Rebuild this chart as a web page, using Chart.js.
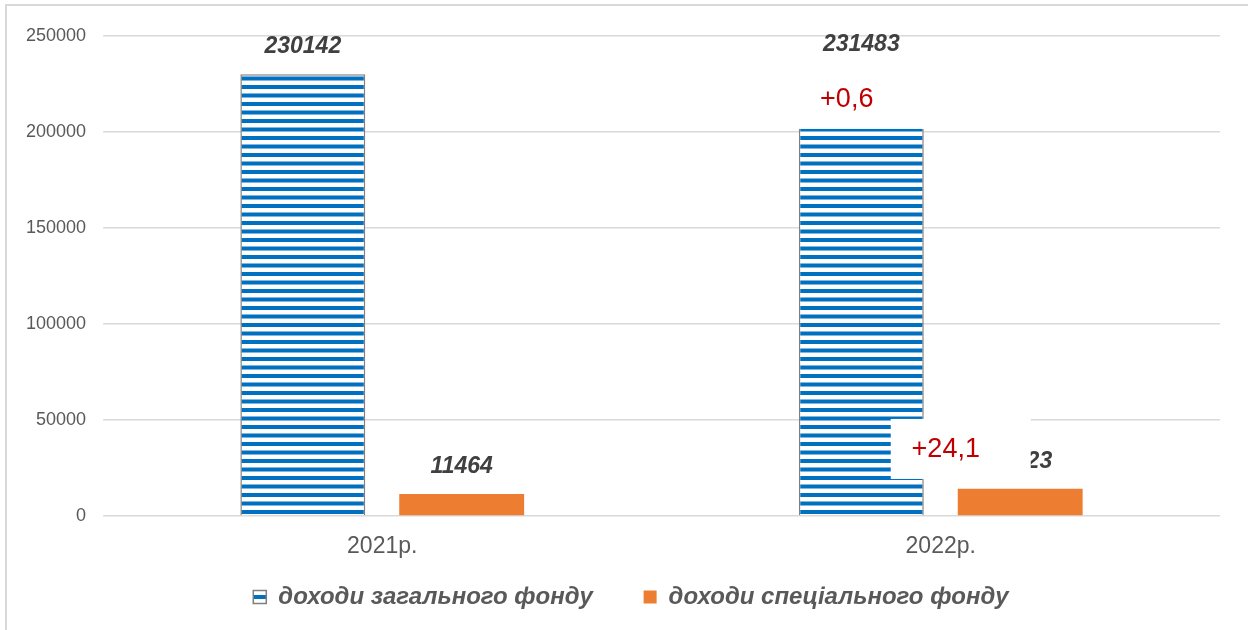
<!DOCTYPE html>
<html lang="uk">
<head>
<meta charset="utf-8" />
<title>Доходи бюджету</title>
<script src="https://cdn.jsdelivr.net/npm/chart.js"></script>
<style>
    html, body { margin: 0; padding: 0; background: #fff; }
    body { width: 1248px; height: 630px; overflow: hidden; position: relative; }
    #frame { position: absolute; left: 5px; top: 4px; width: 1300px; height: 700px; border: 2px solid #d9d9d9; }
    #chart { position: absolute; left: 0; top: 0; }
</style>
</head>
<body>
<div id="frame"></div>
<canvas id="chart" width="1248" height="630"></canvas>

<script>
    var years = ['2021р.', '2022р.'];
    var generalFund = [230142, 231483];
    var specialFund = [11464, 14223];
    var seriesNames = ['доходи загального фонду', 'доходи спеціального фонду'];
    var yTicks = [0, 50000, 100000, 150000, 200000, 250000];
    // growth in 2022 vs 2021, %
    var growthText = ['+0,6', '+24,1'];

    var FONT = '"Liberation Sans", Arial, sans-serif';
    var ctx = document.getElementById('chart').getContext('2d');

    // blue horizontal stripes like the office pattern fill
    function stripes() {
        var c = document.createElement('canvas');
        c.width = 8; c.height = 17;
        var g = c.getContext('2d');
        g.fillStyle = '#ffffff';
        g.fillRect(0, 0, 8, 17);
        g.fillStyle = '#0070c0';
        g.fillRect(0, 0, 8, 4);
        g.fillRect(0, 8.5, 8, 4);
        return ctx.createPattern(c, 'repeat');
    }

    var barLabels = {
        id: 'barLabels',
        afterDatasetsDraw: function (chart) {
            var c = chart.ctx;
            c.save();
            c.font = 'italic bold 23px ' + FONT;
            c.fillStyle = '#404040';
            c.textAlign = 'center';
            c.textBaseline = 'middle';
            chart.data.datasets.forEach(function (ds, i) {
                chart.getDatasetMeta(i).data.forEach(function (bar, j) {
                    c.fillText(String(ds.data[j]), bar.x, bar.y - 27);
                });
            });
            c.restore();
        }
    };

    // white boxes with the red growth figures (drawn over the bars)
    var growthNotes = {
        id: 'growthNotes',
        afterDatasetsDraw: function (chart, args, opts) {
            var c = chart.ctx;
            var xs = chart.scales.x, ys = chart.scales.y;
            c.save();
            c.font = '27px ' + FONT;
            c.textAlign = 'center';
            c.textBaseline = 'middle';
            opts.notes.forEach(function (n, i) {
                var cx = xs.getPixelForValue(n.cat) + n.dx;
                var cy = ys.getPixelForValue(n.level);
                c.fillStyle = '#ffffff';
                c.fillRect(cx - 55, cy - 31, 140, 60);
                c.fillStyle = '#c00000';
                c.fillText(growthText[i], cx, cy);
            });
            c.restore();
        }
    };

    // legend sits a bit right of the canvas centre in the source
    var legendShift = {
        id: 'legendShift',
        afterLayout: function (chart) {
            chart.legend.left += 21;
            chart.legend.right += 21;
        }
    };

    var chart = new Chart(ctx, {
        type: 'bar',
        data: {
            labels: years,
            datasets: [{
                label: seriesNames[0],
                data: generalFund,
                backgroundColor: stripes(),
                borderColor: '#7f7f7f',
                borderWidth: 1.5,
                borderSkipped: 'bottom',
                barPercentage: 0.786,
                categoryPercentage: 0.569
            }, {
                label: seriesNames[1],
                data: specialFund,
                backgroundColor: '#ed7d31',
                borderWidth: 0,
                barPercentage: 0.786,
                categoryPercentage: 0.569
            }]
        },
        options: {
            responsive: false,
            animation: false,
            layout: { padding: { top: 36, right: 28, bottom: 11, left: 0 } },
            scales: {
                x: {
                    grid: { display: false, drawTicks: false },
                    border: { display: false },
                    ticks: { color: '#595959', font: { family: FONT, size: 23 }, padding: 17 },
                    afterFit: function (s) { s.height = 45; }
                },
                y: {
                    min: 0,
                    max: 250000,
                    afterBuildTicks: function (s) { s.ticks = yTicks.map(function (v) { return { value: v }; }); },
                    grid: { color: '#d9d9d9', lineWidth: 1.5, drawTicks: false },
                    border: { display: false },
                    ticks: {
                        color: '#595959', font: { family: FONT, size: 18 }, padding: 17,
                        callback: function (v) { return String(v); }
                    },
                    afterFit: function (s) { s.width = 103; }
                }
            },
            plugins: {
                legend: {
                    position: 'bottom',
                    labels: {
                        boxWidth: 13,
                        boxHeight: 13,
                        padding: 24,
                        color: '#595959',
                        font: { family: FONT, size: 24, style: 'italic', weight: 'bold' },
                        generateLabels: function (chart) {
                            var items = Chart.defaults.plugins.legend.labels.generateLabels(chart);
                            // wider gap after the first item, as in the source
                            items[0].text += '    ';
                            return items;
                        }
                    }
                },
                tooltip: { enabled: false },
                growthNotes: {
                    notes: [
                        { cat: 1, dx: -94, level: 216700 },
                        { cat: 1, dx: 5, level: 34400 }
                    ]
                }
            }
        },
        plugins: [barLabels, growthNotes, legendShift]
    });
</script>
</body>
</html>
